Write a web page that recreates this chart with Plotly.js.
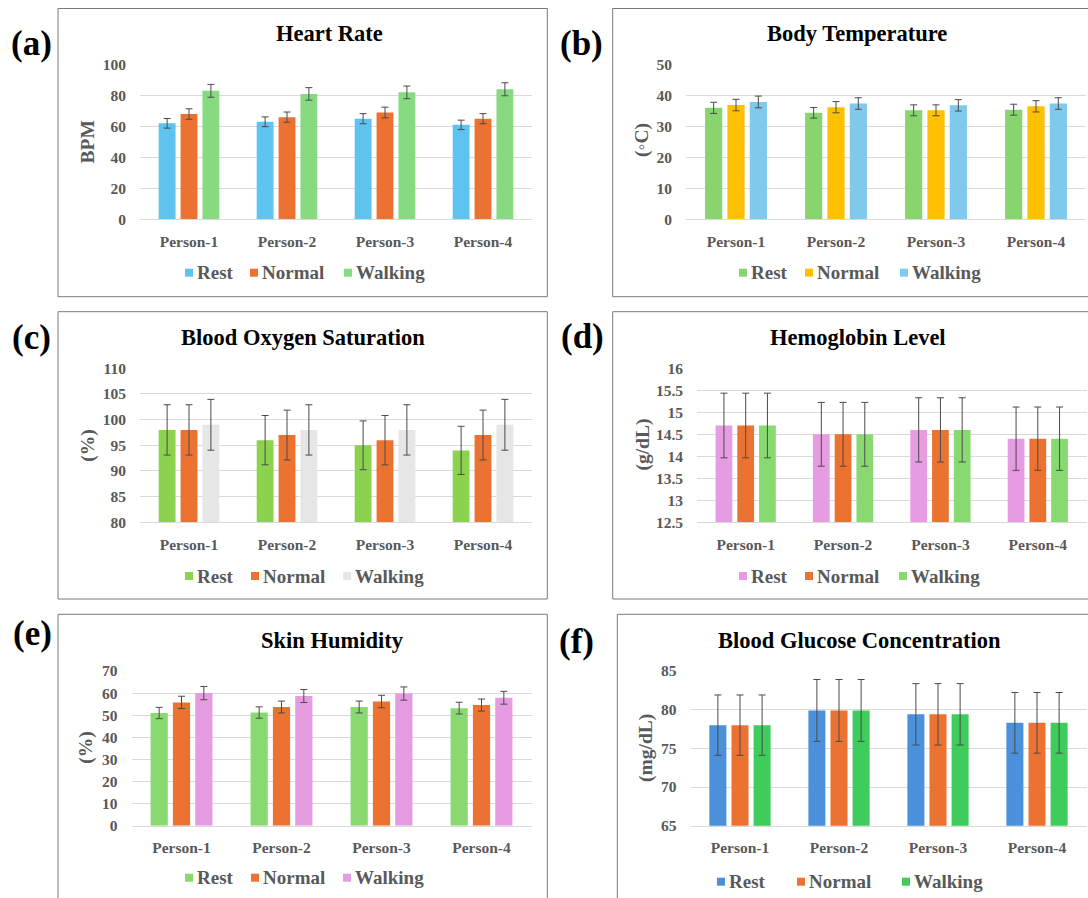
<!DOCTYPE html>
<html><head><meta charset="utf-8">
<script src="https://cdn.plot.ly/plotly-3.0.1.min.js"></script>
<style>html,body{margin:0;padding:0;background:#fff}#chart{width:1088px;height:898px}</style>
</head><body><div id="chart"></div>
<script>
const W = 1088, H = 898;
const categories = ['Person-1', 'Person-2', 'Person-3', 'Person-4'];
const conditions = ['Rest', 'Normal', 'Walking'];

// (a) Heart Rate (BPM)
const heartRest = [62, 63, 65, 61];
const heartNormal = [68, 66, 69, 65];
const heartWalking = [83, 81, 82, 84];
const heartRestErr = [3.1, 3.15, 3.25, 3.05];
const heartNormalErr = [3.4, 3.3, 3.45, 3.25];
const heartWalkingErr = [4.15, 4.05, 4.1, 4.2];

// (b) Body Temperature (°C)
const tempRest = [36.0, 34.4, 35.2, 35.4];
const tempNormal = [36.9, 36.2, 35.2, 36.5];
const tempWalking = [37.9, 37.4, 36.8, 37.4];
const tempRestErr = [1.8, 1.72, 1.76, 1.77];
const tempNormalErr = [1.85, 1.81, 1.76, 1.83];
const tempWalkingErr = [1.9, 1.87, 1.84, 1.87];

// (c) Blood Oxygen Saturation (%)
const spo2Rest = [98, 96, 95, 94];
const spo2Normal = [98, 97, 96, 97];
const spo2Walking = [99, 98, 98, 99];
const spo2RestErr = [4.9, 4.8, 4.75, 4.7];
const spo2NormalErr = [4.9, 4.85, 4.8, 4.85];
const spo2WalkingErr = [4.95, 4.9, 4.9, 4.95];

// (d) Hemoglobin Level (g/dL)
const hbRest = [14.7, 14.5, 14.6, 14.4];
const hbNormal = [14.7, 14.5, 14.6, 14.4];
const hbWalking = [14.7, 14.5, 14.6, 14.4];
const hbErr = [0.735, 0.725, 0.73, 0.72];

// (e) Skin Humidity (%)
const humRest = [51, 51.2, 53.7, 53.2];
const humNormal = [55.8, 53.7, 56.2, 54.6];
const humWalking = [60, 58.7, 59.8, 57.9];
const humRestErr = [2.55, 2.56, 2.69, 2.66];
const humNormalErr = [2.79, 2.69, 2.81, 2.73];
const humWalkingErr = [3.0, 2.94, 2.99, 2.9];

// (f) Blood Glucose Concentration (mg/dL)
const gluRest = [78, 79.9, 79.4, 78.3];
const gluNormal = [78, 79.9, 79.4, 78.3];
const gluWalking = [78, 79.9, 79.4, 78.3];
const gluErr = [3.9, 4.0, 3.97, 3.92];

const FONT = "'Liberation Serif', 'Times New Roman', serif";
const GRAY = '#595959';

const panels = [
  { label: '(a)', title: 'Heart Rate', ytitle: 'BPM',
    values: [heartRest, heartNormal, heartWalking], errors: [heartRestErr, heartNormalErr, heartWalkingErr],
    colors: ['#5EC4EF', '#EC7232', '#88DA80'], range: [0, 100], dtick: 20,
    frame: [58, 8.5, 547.3, 296.7], plot: [140, 64.5, 532, 219.3], titleXY: [329, 33], labelXY: [31.5, 43],
    ytitleXY: [87.5, 142], legendY: 272.7, legendX: [185, 250, 344] },
  { label: '(b)', title: 'Body Temperature', ytitle: '(◦C)',
    values: [tempRest, tempNormal, tempWalking], errors: [tempRestErr, tempNormalErr, tempWalkingErr],
    colors: ['#88D570', '#FFC000', '#7EC9EC'], range: [0, 50], dtick: 10,
    frame: [612.7, 8.5, 1092, 296.7], plot: [686, 64.5, 1086, 219.3], titleXY: [857, 33], labelXY: [581.5, 43],
    ytitleXY: [642, 140], legendY: 272.7, legendX: [739, 805, 900] },
  { label: '(c)', title: 'Blood Oxygen Saturation', ytitle: '(%)',
    values: [spo2Rest, spo2Normal, spo2Walking], errors: [spo2RestErr, spo2NormalErr, spo2WalkingErr],
    colors: ['#8DD24E', '#EC7232', '#E6E6E6'], range: [80, 110], dtick: 5,
    frame: [58, 311.7, 547.3, 599], plot: [140, 368.3, 532, 522.3], titleXY: [303, 337], labelXY: [31, 337],
    ytitleXY: [87.7, 445], legendY: 576, legendX: [185, 251, 343] },
  { label: '(d)', title: 'Hemoglobin Level', ytitle: '(g/dL)',
    values: [hbRest, hbNormal, hbWalking], errors: [hbErr, hbErr, hbErr],
    colors: ['#E69CE0', '#EC7232', '#88DA70'], range: [12.5, 16], dtick: 0.5,
    frame: [612.7, 311.7, 1092, 599], plot: [697, 368.3, 1086.5, 522.3], titleXY: [857.6, 337], labelXY: [582, 336],
    ytitleXY: [642.6, 445], legendY: 576, legendX: [739, 805, 899] },
  { label: '(e)', title: 'Skin Humidity', ytitle: '(%)',
    values: [humRest, humNormal, humWalking], errors: [humRestErr, humNormalErr, humWalkingErr],
    colors: ['#88DA70', '#EC7232', '#E69CE0'], range: [0, 70], dtick: 10,
    frame: [58, 614.3, 547.3, 902], plot: [131.5, 671, 531.5, 825.7], titleXY: [332.5, 640], labelXY: [32.5, 633],
    ytitleXY: [85.3, 747.5], legendY: 877.7, legendX: [185, 251, 343] },
  { label: '(f)', title: 'Blood Glucose Concentration', ytitle: '(mg/dL)',
    values: [gluRest, gluNormal, gluWalking], errors: [gluErr, gluErr, gluErr],
    colors: ['#4A90DA', '#EC7232', '#3ECC5C'], range: [65, 85], dtick: 5,
    frame: [617.3, 614.3, 1092, 902], plot: [690.5, 671, 1086.5, 825.7], titleXY: [859.2, 640.7], labelXY: [576.5, 641.5],
    ytitleXY: [646, 748], legendY: 881.7, legendX: [717, 797, 902] }
];

const px = x => x / W;
const py = y => 1 - y / H;

const data = [];
const layout = {
  width: W, height: H, margin: { l: 0, r: 0, t: 0, b: 0 },
  paper_bgcolor: '#ffffff', plot_bgcolor: '#ffffff',
  barmode: 'group', bargap: 0.33, bargroupgap: 0.23,
  showlegend: false, font: { family: FONT },
  shapes: [], annotations: []
};

panels.forEach((p, i) => {
  const n = i + 1;
  const xa = 'x' + (n > 1 ? n : ''), ya = 'y' + (n > 1 ? n : '');
  conditions.forEach((c, j) => {
    data.push({
      type: 'bar', x: categories, y: p.values[j], name: c,
      marker: { color: p.colors[j], line: { width: 0 } },
      error_y: { type: 'data', array: p.errors[j], visible: true, color: '#4a4a4a', thickness: 1, width: 3.5 },
      xaxis: xa, yaxis: ya, hoverinfo: 'y+name'
    });
  });
  layout['xaxis' + (n > 1 ? n : '')] = {
    domain: [px(p.plot[0]), px(p.plot[2])], anchor: ya,
    showgrid: false, zeroline: false, showline: true, linecolor: '#D9D9D9', linewidth: 1,
    ticks: '', ticklabelstandoff: 8, fixedrange: true,
    tickfont: { family: FONT, size: 15.5, color: GRAY, weight: 'bold' }
  };
  layout['yaxis' + (n > 1 ? n : '')] = {
    domain: [py(p.plot[3]), py(p.plot[1])], anchor: xa,
    range: p.range, tick0: p.range[0], dtick: p.dtick,
    showgrid: true, gridcolor: '#D9D9D9', gridwidth: 1, zeroline: false, showline: false,
    ticks: '', ticklabelstandoff: 13, fixedrange: true,
    tickfont: { family: FONT, size: 15.5, color: GRAY, weight: 'bold' }
  };
  // frame
  layout.shapes.push({ type: 'rect', xref: 'paper', yref: 'paper',
    x0: px(p.frame[0]), x1: px(p.frame[2]), y0: py(p.frame[3]), y1: py(p.frame[1]),
    line: { color: '#7a7a7a', width: 1 }, fillcolor: 'rgba(0,0,0,0)', layer: 'below' });
  // title
  layout.annotations.push({ xref: 'paper', yref: 'paper', x: px(p.titleXY[0]), y: py(p.titleXY[1]),
    xanchor: 'center', yanchor: 'middle', showarrow: false, text: p.title,
    font: { family: FONT, size: 22.5, color: '#000000', weight: 'bold' } });
  // panel label
  layout.annotations.push({ xref: 'paper', yref: 'paper', x: px(p.labelXY[0]), y: py(p.labelXY[1]),
    xanchor: 'center', yanchor: 'middle', showarrow: false, text: p.label,
    font: { family: FONT, size: 35, color: '#000000', weight: 'bold' } });
  // y title
  layout.annotations.push({ xref: 'paper', yref: 'paper', x: px(p.ytitleXY[0]), y: py(p.ytitleXY[1]),
    xanchor: 'center', yanchor: 'middle', showarrow: false, text: p.ytitle, textangle: -90,
    font: { family: FONT, size: 19.5, color: GRAY, weight: 'bold' } });
  // legend
  conditions.forEach((c, j) => {
    const lx = p.legendX[j];
    layout.shapes.push({ type: 'rect', xref: 'paper', yref: 'paper',
      x0: px(lx), x1: px(lx + 8), y0: py(p.legendY + 4), y1: py(p.legendY - 4),
      line: { width: 0 }, fillcolor: p.colors[j] });
    layout.annotations.push({ xref: 'paper', yref: 'paper', x: px(lx + 10), y: py(p.legendY),
      xanchor: 'left', yanchor: 'middle', showarrow: false, text: c,
      font: { family: FONT, size: 19, color: GRAY, weight: 'bold' } });
  });
});

Plotly.newPlot('chart', data, layout, { displayModeBar: false, staticPlot: true });
</script>
</body></html>
